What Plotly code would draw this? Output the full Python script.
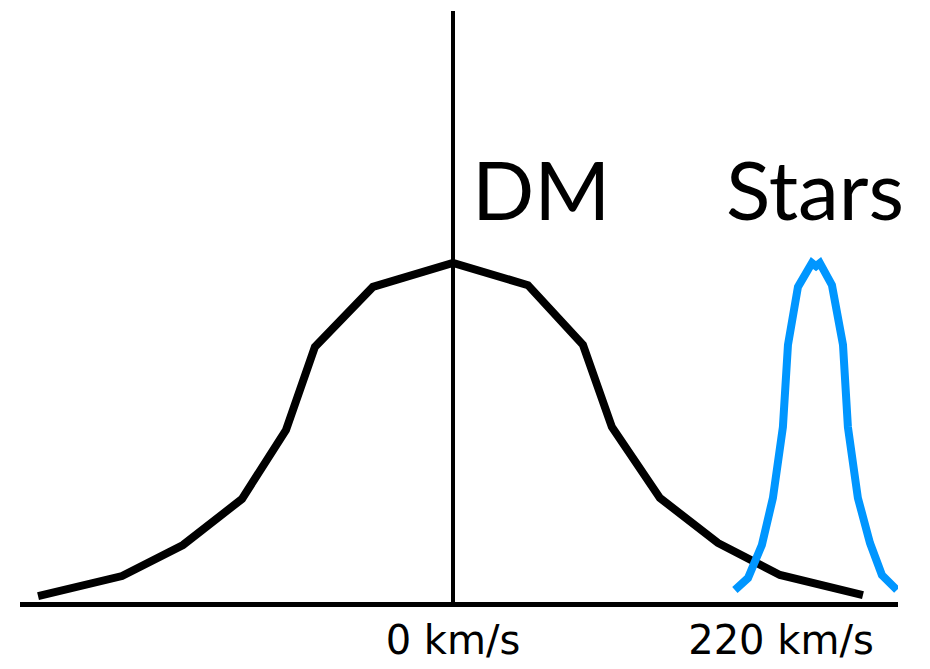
import plotly.graph_objects as go

# Dark matter velocity distribution (schematic), velocity in km/s, relative density
dm_v = [-278.3, -222.0, -181.1, -141.5, -112.0, -92.6, -53.7, 0.0, 50.3, 87.2, 106.6, 138.8, 177.7, 219.3, 275.0]
dm_f = [0.023, 0.082, 0.173, 0.308, 0.510, 0.754, 0.930, 1.0, 0.935, 0.760, 0.519, 0.311, 0.179, 0.085, 0.026]

# Stars velocity distribution (schematic)
st_v = [189.1, 197.9, 207.2, 214.6, 221.3, 224.7, 231.4, 240.8, 243.5, 246.1, 254.2, 261.6, 264.9, 271.6, 279.7, 287.7, 297.8]
st_f = [0.041, 0.076, 0.173, 0.311, 0.519, 0.760, 0.930, 1.0, 0.991, 1.0, 0.935, 0.760, 0.519, 0.311, 0.179, 0.085, 0.041]

tick_vals = [0, 220]
tick_text = ["0 km/s", "220 km/s"]

labels = ["DM", "Stars"]
label_x = [11.4, 181.5]
label_y = [1.071, 1.071]

fig = go.Figure()
fig.add_trace(go.Scatter(x=dm_v, y=dm_f, mode="lines",
                         line=dict(color="black", width=8), showlegend=False))
fig.add_trace(go.Scatter(x=st_v, y=st_f, mode="lines",
                         line=dict(color="#0096FF", width=8), showlegend=False))

for t, x, y in zip(labels, label_x, label_y):
    fig.add_annotation(x=x, y=y, xref="x", yref="y", text=t, showarrow=False,
                       xanchor="left", yanchor="bottom",
                       font=dict(family="Lato", size=82, color="black"))

fig.update_layout(
    width=930, height=669,
    margin=dict(l=12, r=40, t=3, b=70),
    paper_bgcolor="white", plot_bgcolor="white",
    xaxis=dict(range=[-290.4, 298.5], showgrid=False, zeroline=True,
               zerolinecolor="black", zerolinewidth=4,
               tickvals=tick_vals, ticktext=tick_text, ticks="",
               ticklabelstandoff=6,
               tickfont=dict(family="DejaVu Sans", size=40, color="black"),
               showline=False),
    yaxis=dict(range=[-0.0088, 1.739], showgrid=False, zeroline=True,
               zerolinecolor="black", zerolinewidth=5,
               showticklabels=False, ticks="", showline=False),
)

fig.write_html("out.html")
